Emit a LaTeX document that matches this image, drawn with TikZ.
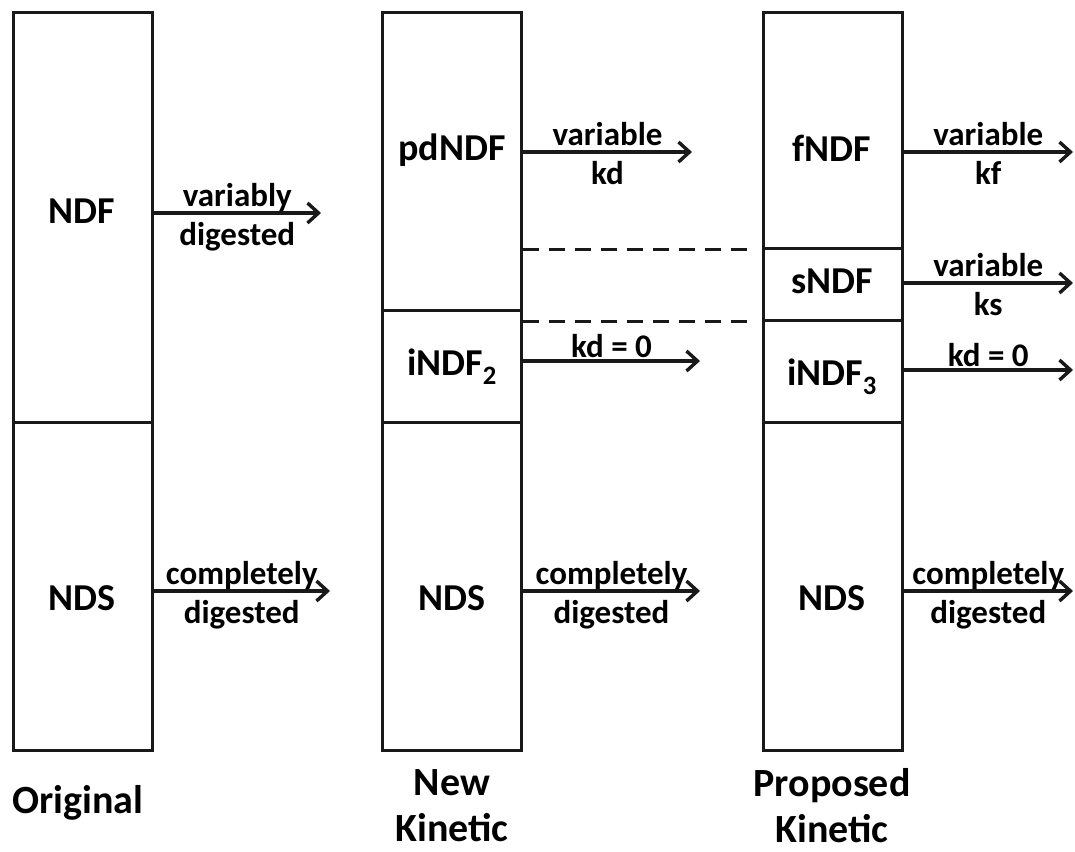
\documentclass[tikz,border=0pt]{standalone}
\usepackage{fontspec}
\setmainfont{Carlito}
\usetikzlibrary{arrows.meta}
\begin{document}
\begin{tikzpicture}[x=1pt,y=-1pt,line width=3pt]
	\def \boxtop{13}
	\def \boxbot{750}
	\def \ndfbot{422}
	\tikzstyle{seg}=[draw=black!90,inner sep=0pt,minimum width=139pt]
	\tikzstyle{lbl}=[font=\fontsize{38}{42}\selectfont\bfseries,inner sep=0pt]
	\tikzstyle{small}=[font=\fontsize{33}{36}\selectfont\bfseries,inner sep=0pt]
	\tikzstyle{ttl}=[font=\fontsize{40}{46}\selectfont\bfseries,inner sep=0pt,align=center]
	\tikzstyle{up}=[small,anchor=base,yshift=7pt]
	\tikzstyle{down}=[small,anchor=base,yshift=-32pt]
	\tikzstyle{flow}=[draw=black!90,line width=3.4pt,-{Straight Barb[length=11pt,width=20pt,line width=3.4pt]}]
	\tikzstyle{dline}=[draw=black!90,dash pattern=on 16pt off 10pt]

	\useasboundingbox (0,0) rectangle (1075,851);

	% original
	\node[seg,minimum height=409pt] (o-ndf) at (82.5,217.5) {};
	\node[seg,minimum height=328pt] (o-nds) at (82.5,586) {};

	% new kinetic
	\node[seg,minimum height=297pt] (n-pd)  at (452,161.5) {};
	\node[seg,minimum height=112pt] (n-i)   at (452,366) {};
	\node[seg,minimum height=328pt] (n-nds) at (452,586) {};

	% proposed kinetic
	\node[seg,minimum height=235pt] (p-f)   at (832.5,130.5) {};
	\node[seg,minimum height=72pt]  (p-s)   at (832.5,284) {};
	\node[seg,minimum height=102pt] (p-i)   at (832.5,371) {};
	\node[seg,minimum height=328pt] (p-nds) at (832.5,586) {};

	% fraction names
	\node[lbl] (t-ndf)  at (82,211)  {NDF};
	\node[lbl] (t-ndso) at (82,598)  {NDS};
	\node[lbl] (t-pd)   at (452,150) {pdNDF};
	\node[lbl] (t-i2)   at (452,367) {iNDF\textsubscript{2}};
	\node[lbl] (t-ndsn) at (452,598) {NDS};
	\node[lbl] (t-f)    at (832,148) {fNDF};
	\node[lbl] (t-s)    at (832,281) {sNDF};
	\node[lbl] (t-i3)   at (832,377) {iNDF\textsubscript{3}};
	\node[lbl] (t-ndsp) at (832,598) {NDS};

	% titles
	\node[ttl] (orig) at (78,803) {Original};
	\node[ttl] (newk) at (452,806) {New\\Kinetic};
	\node[ttl] (prop) at (832,806) {Proposed\\Kinetic};

	% arrow ends
	\coordinate (e-ndf)  at (321,213);
	\coordinate (e-ndso) at (330,591);
	\coordinate (e-pd)   at (692,152);
	\coordinate (e-i2)   at (700,361);
	\coordinate (e-ndsn) at (700,591);
	\coordinate (e-f)    at (1073,152);
	\coordinate (e-s)    at (1073,283);
	\coordinate (e-i3)   at (1073,370);
	\coordinate (e-ndsp) at (1073,591);

	\draw[flow] (o-ndf.east |- e-ndf) -- (e-ndf)
		node[up,midway] {variably} node[down,midway] {digested};
	\draw[flow] (o-nds.east |- e-ndso) -- (e-ndso)
		node[up,midway] {completely} node[down,midway] {digested};
	\draw[flow] (n-pd.east |- e-pd) -- (e-pd)
		node[up,midway] {variable} node[down,midway] {kd};
	\draw[flow] (n-i.east |- e-i2) -- (e-i2)
		node[small,anchor=base,midway,yshift=4pt] {kd = 0};
	\draw[flow] (n-nds.east |- e-ndsn) -- (e-ndsn)
		node[up,midway] {completely} node[down,midway] {digested};
	\draw[flow] (p-f.east |- e-f) -- (e-f)
		node[up,midway] {variable} node[down,midway] {kf};
	\draw[flow] (p-s.east |- e-s) -- (e-s)
		node[up,midway] {variable} node[down,midway] {ks};
	\draw[flow] (p-i.east |- e-i3) -- (e-i3)
		node[small,anchor=base,midway,yshift=4pt] {kd = 0};
	\draw[flow] (p-nds.east |- e-ndsp) -- (e-ndsp)
		node[up,midway] {completely} node[down,midway] {digested};

	% dashed levels
	\draw[dline,shorten >=12pt] (n-pd.east |- p-f.south) -- (p-f.south west);
	\draw[dline,shorten >=12pt] (n-pd.east |- p-s.south) -- (p-s.south west);
\end{tikzpicture}
\end{document}
